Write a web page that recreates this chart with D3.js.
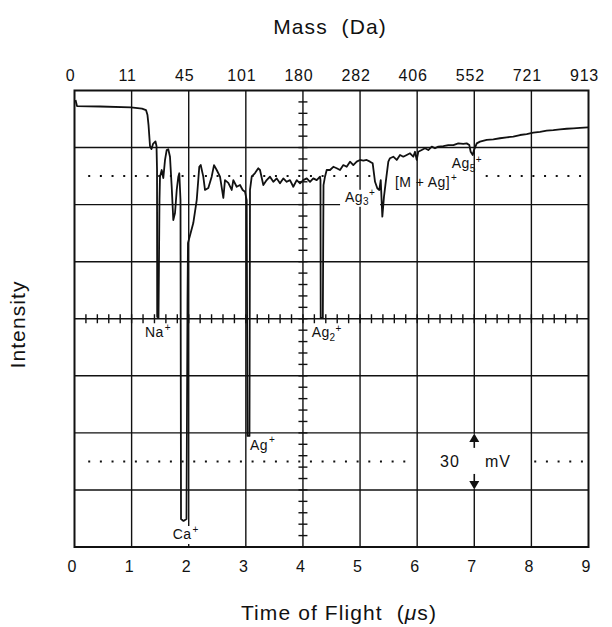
<!DOCTYPE html>
<html><head><meta charset="utf-8">
<script src="https://cdn.jsdelivr.net/npm/d3@7"></script>
<style>
body{margin:0;background:#fff}
svg{display:block;background:#fff}
text{font-family:"Liberation Sans",Arial,Helvetica,sans-serif;fill:#111;white-space:pre}
</style></head><body><svg id="chart" width="612" height="627"></svg>
<script>
// ---- data (time of flight in µs, signal in mV relative to centre line) ----
const timeUs = [0.018,0.044,0.447,0.989,1.182,1.252,1.278,1.296,1.322,1.348,1.375,1.418,1.436,1.445,1.448,1.471,1.488,1.497,1.527,1.555,1.585,1.614,1.642,1.672,1.702,1.730,1.760,1.790,1.818,1.835,1.856,1.865,1.909,1.961,1.979,1.987,2.080,2.140,2.185,2.210,2.255,2.285,2.343,2.402,2.443,2.490,2.548,2.606,2.635,2.693,2.753,2.781,2.840,2.898,2.945,2.985,3.015,3.029,3.064,3.073,3.103,3.161,3.218,3.248,3.306,3.365,3.423,3.481,3.541,3.598,3.656,3.716,3.773,3.831,3.891,3.949,4.006,4.066,4.124,4.181,4.241,4.299,4.307,4.311,4.348,4.360,4.386,4.416,4.474,4.532,4.591,4.649,4.707,4.766,4.824,4.882,4.941,4.999,5.057,5.116,5.174,5.221,5.262,5.302,5.337,5.362,5.390,5.419,5.454,5.495,5.524,5.582,5.642,5.700,5.757,5.817,5.875,5.932,5.962,5.992,6.020,6.080,6.137,6.195,6.255,6.312,6.370,6.458,6.545,6.633,6.720,6.808,6.867,6.913,6.937,6.973,6.995,7.043,7.100,7.218,7.333,7.450,7.568,7.683,7.801,7.918,8.034,8.151,8.268,8.384,8.501,8.618,8.734,8.851,8.991];
const signalMv = [115.0,111.8,111.6,111.1,110.5,109.7,107.1,101.9,90.8,89.2,91.9,93.2,90.8,78.2,1.0,0.5,62.4,74.7,78.2,74.0,83.5,88.7,89.1,85.2,69.4,51.9,55.6,67.7,74.7,76.5,62.4,-105.3,-106.3,-105.3,9.9,39.8,50.3,62.4,79.9,80.8,74.7,67.7,68.7,74.7,80.8,78.2,74.7,63.5,72.9,71.4,67.7,72.9,69.4,70.3,67.7,66.8,62.4,-61.6,-61.6,67.7,74.7,76.6,79.1,78.2,70.3,72.9,74.7,72.0,73.8,71.2,73.8,72.0,72.9,69.4,72.9,71.2,72.9,73.8,72.0,73.8,72.9,74.7,72.9,0.4,0.4,70.3,74.7,78.2,78.2,79.9,79.1,78.2,80.8,79.9,82.6,80.8,82.6,83.5,83.1,83.5,82.6,81.7,72.0,68.6,67.7,72.9,53.7,64.2,72.9,82.6,84.4,85.2,83.5,86.1,85.2,86.1,87.0,85.2,87.8,83.5,87.8,88.7,89.6,88.7,90.5,89.6,90.5,90.8,91.3,91.3,92.2,91.9,92.2,91.3,87.8,86.1,88.7,92.2,93.1,94.0,94.3,94.9,95.4,95.7,96.6,97.1,97.8,98.3,98.9,99.2,99.6,99.9,100.1,100.3,100.6];
const timeTicks = [0,1,2,3,4,5,6,7,8,9];
const massTickLabels = ["0","11","45","101","180","282","406","552","721","913"];
const mvGrid = [-120,-90,-60,-30,0,30,60,90,120];
const dottedLevels = [75,-75];
const ionNames = ["Na","Ca","Ag","Ag","Ag","[M + Ag]","Ag"];
const ionSubs = ["","","","2","3","","5"];
const ionTime = [1.236,1.720,3.073,4.153,4.737,5.612,6.605];
const ionMv = [-9.6,-115.8,-68.9,-9.8,61.5,69.1,79.1];
const scaleBarMv = 30;

// ---- layout ----
const svg = d3.select("#chart");
const x = d3.scaleLinear().domain([0,9]).range([74.5,588.5]);
const y = d3.scaleLinear().domain([-120,120]).range([547,90.5]);
const ink = "#111";

// grid lines
const g = svg.append("g");
g.selectAll("line.v").data(timeTicks.slice(1,-1)).join("line")
  .attr("x1",d=>x(d)).attr("x2",d=>x(d)).attr("y1",y(120)).attr("y2",y(-120))
  .attr("stroke",ink).attr("stroke-width",1.4);
g.selectAll("line.h").data(mvGrid.slice(1,-1)).join("line")
  .attr("y1",d=>y(d)).attr("y2",d=>y(d)).attr("x1",x(0)).attr("x2",x(9))
  .attr("stroke",ink).attr("stroke-width",1.4);

// minor ticks on the centre cross
const xMinor = d3.range(1,45).map(i=>i*0.2);
g.selectAll("line.xm").data(xMinor).join("line")
  .attr("x1",d=>x(d)).attr("x2",d=>x(d)).attr("y1",y(0)-4.5).attr("y2",y(0)+4.5)
  .attr("stroke",ink).attr("stroke-width",1.4);
const yMinor = d3.range(-19,20).map(i=>i*6);
g.selectAll("line.ym").data(yMinor).join("line")
  .attr("y1",d=>y(d)).attr("y2",d=>y(d)).attr("x1",x(4)-4.5).attr("x2",x(4)+4.5)
  .attr("stroke",ink).attr("stroke-width",1.4);

// dotted reference lines (with gaps)
const dotSegs = [[dottedLevels[0],0.24,5.2],[dottedLevels[0],7.2,8.95],[dottedLevels[1],0.24,5.95],[dottedLevels[1],8.05,8.95]];
g.selectAll("line.dot").data(dotSegs).join("line")
  .attr("x1",d=>x(d[1])).attr("x2",d=>x(d[2])).attr("y1",d=>y(d[0])).attr("y2",d=>y(d[0]))
  .attr("stroke",ink).attr("stroke-width",2).attr("stroke-dasharray","2,9.67");

// frame
g.append("rect").attr("x",x(0)).attr("y",y(120)).attr("width",x(9)-x(0)).attr("height",y(-120)-y(120))
  .attr("fill","none").attr("stroke",ink).attr("stroke-width",2);

// gap in x=7 gridline for scale bar
g.append("rect").attr("x",x(7)-2.5).attr("width",5).attr("y",y(-60)+1).attr("height",y(-90)-y(-60)-2).attr("fill","#fff");

// scale bar arrows
const ax = x(7);
const ySbTop = y(-60), ySbBot = y(-60-scaleBarMv);
g.append("line").attr("x1",ax).attr("x2",ax).attr("y1",ySbTop+8).attr("y2",ySbTop+15).attr("stroke",ink).attr("stroke-width",1.6);
g.append("path").attr("d",`M${ax},${ySbTop+0.5}L${ax-5},${ySbTop+9}L${ax+5},${ySbTop+9}Z`).attr("fill",ink);
g.append("line").attr("x1",ax).attr("x2",ax).attr("y1",ySbBot-16).attr("y2",ySbBot-8).attr("stroke",ink).attr("stroke-width",1.6);
g.append("path").attr("d",`M${ax},${ySbBot-0.5}L${ax-5},${ySbBot-9}L${ax+5},${ySbBot-9}Z`).attr("fill",ink);
svg.append("text").attr("x",x(6.40)).attr("y",y(-77.8)).attr("font-size",16).attr("letter-spacing",1).text(scaleBarMv);
svg.append("text").attr("x",x(7.188)).attr("y",y(-77.8)).attr("font-size",16).attr("letter-spacing",1).text("mV");

// label backgrounds (Ca+ and Ag3+ interrupt grid lines)
g.append("rect").attr("x",x(1.70)).attr("y",y(-115.8)-13).attr("width",27).attr("height",18).attr("fill","#fff");
g.append("rect").attr("x",x(4.65)).attr("y",y(61.5)-12).attr("width",40).attr("height",17).attr("fill","#fff");

// trace
const data = timeUs.map((t,i)=>[t,signalMv[i]]);
svg.append("path").datum(data)
  .attr("d",d3.line().x(d=>x(d[0])).y(d=>y(d[1])))
  .attr("fill","none").attr("stroke",ink).attr("stroke-width",1.8).attr("stroke-linejoin","round");

// ion labels
ionNames.forEach((name,i)=>{
  const t = svg.append("text").attr("x",x(ionTime[i])).attr("y",y(ionMv[i])).attr("font-size",14).attr("letter-spacing",0.4);
  t.append("tspan").text(name);
  if (ionSubs[i]) {
    t.append("tspan").attr("font-size",10).attr("dy",3.5).text(ionSubs[i]);
    t.append("tspan").attr("font-size",10).attr("dy",-9).text("+");
  } else {
    t.append("tspan").attr("font-size",10).attr("dy",-6.5).attr("dx",1).text("+");
  }
});

// bottom axis labels
const bottomAxis = d3.axisBottom(x).tickValues(timeTicks).tickSize(0).tickPadding(0).tickFormat(d3.format("d"));
const gb = svg.append("g").attr("transform",`translate(-3,${572.5-12})`).call(bottomAxis);
gb.select(".domain").remove();
gb.selectAll("text").attr("font-size",16).attr("dy","0.71em").attr("fill",ink).style("font-family",'"Liberation Sans",Arial,sans-serif');

// top axis labels (mass)
const topAxis = d3.axisTop(x).tickValues(timeTicks).tickSize(0).tickPadding(0).tickFormat((d,i)=>massTickLabels[i]);
const gt = svg.append("g").attr("transform",`translate(-4.5,80.7)`).call(topAxis);
gt.select(".domain").remove();
gt.selectAll("text").attr("font-size",16).attr("dy",0).attr("letter-spacing",0.8).attr("fill",ink).style("font-family",'"Liberation Sans",Arial,sans-serif');

// titles
svg.append("text").attr("x",330).attr("y",33.5).attr("text-anchor","middle").attr("font-size",21).attr("letter-spacing",1.1).text("Mass  (Da)");
const xt = svg.append("text").attr("x",339).attr("y",620).attr("text-anchor","middle").attr("font-size",21).attr("letter-spacing",1.1);
xt.append("tspan").text("Time of Flight  (");
xt.append("tspan").attr("font-style","italic").text("\u03bc");
xt.append("tspan").text("s)");
svg.append("text").attr("transform","translate(25,324.5) rotate(-90)").attr("text-anchor","middle").attr("font-size",21).attr("letter-spacing",1.1).text("Intensity");
</script></body></html>
